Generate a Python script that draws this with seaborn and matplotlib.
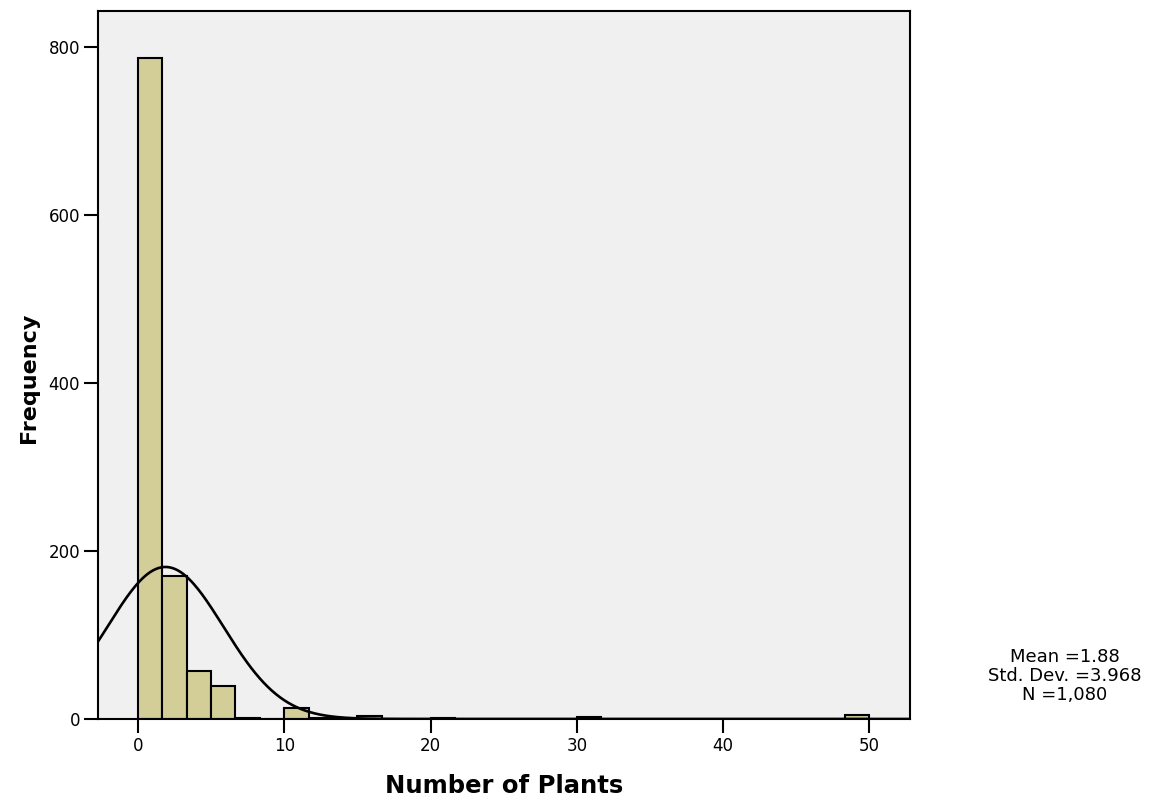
import numpy as np
import pandas as pd
import matplotlib
matplotlib.use("Agg")
import matplotlib.pyplot as plt
import seaborn as sns

# Data
bin_edges = [0, 1.667, 3.333, 5.0, 6.667, 8.333, 10.0, 11.667, 13.333, 15.0, 16.667,
             18.333, 20.0, 21.667, 23.333, 25.0, 26.667, 28.333, 30.0, 31.667, 33.333,
             35.0, 36.667, 38.333, 40.0, 41.667, 43.333, 45.0, 46.667, 48.333, 50.0]
counts = [787, 170, 57, 39, 1, 0, 13, 1, 0, 4,
          0, 0, 1, 0, 0, 0, 0, 0, 2, 0,
          0, 0, 0, 0, 0, 0, 0, 0, 0, 5]
mean_val = 1.88
sd_val = 3.968
n_val = 1080
x_ticks = [0, 10, 20, 30, 40, 50]
y_ticks = [0, 200, 400, 600, 800]

sns.set_style("white")
plt.rcParams['font.family'] = ['DejaVu Sans']
plt.rcParams['text.color'] = 'black'
plt.rcParams['axes.labelcolor'] = 'black'
plt.rcParams['xtick.color'] = 'black'
plt.rcParams['ytick.color'] = 'black'

fig = plt.figure(figsize=(11.57, 8.01), dpi=100)
ax = fig.add_axes([0.0847, 0.1024, 0.7018, 0.8839])
ax.set_facecolor('#F0F0F0')

edges = np.array(bin_edges)
centers = (edges[:-1] + edges[1:]) / 2
df = pd.DataFrame({'x': centers, 'w': counts})
sns.histplot(data=df, x='x', weights='w', bins=list(bin_edges), ax=ax,
             color='#D3CE97', alpha=1, edgecolor='black', linewidth=1.5)

width = edges[1] - edges[0]
xs = np.linspace(-3, 53, 600)
ys = n_val * width * np.exp(-0.5 * ((xs - mean_val) / sd_val) ** 2) / (sd_val * np.sqrt(2 * np.pi))
ax.plot(xs, ys, color='black', linewidth=1.9)

ax.set_xlim(-2.73, 52.77)
ax.set_ylim(0, 843)
ax.set_xticks(x_ticks)
ax.set_yticks(y_ticks)
ax.tick_params(axis='both', which='both', direction='out', length=10, width=1.5,
               labelsize=12, color='black', labelcolor='black',
               bottom=True, left=True, pad=3)
for s in ax.spines.values():
    s.set_visible(True)
    s.set_color('black')
    s.set_linewidth(1.5)

ax.set_xlabel('Number of Plants', fontsize=17.5, fontweight='bold', labelpad=14)
ax.set_ylabel('Frequency', fontsize=16, fontweight='bold')
ax.yaxis.set_label_coords(-0.073, 0.482)

fig.text(0.9205, 0.156, f"Mean ={mean_val:.2f}\nStd. Dev. ={sd_val:.3f}\nN ={n_val:,}",
         ha='center', va='center', fontsize=13, linespacing=1.1)

fig.savefig('out.png', dpi=100)
